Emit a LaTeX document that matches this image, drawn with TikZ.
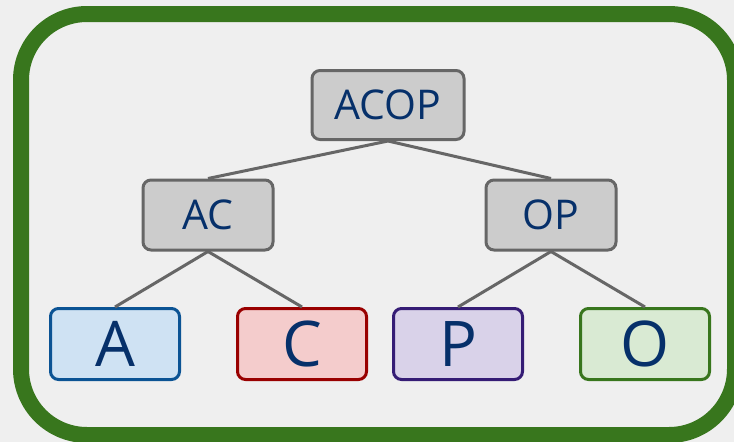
\documentclass[tikz,border=0pt]{standalone}
\usepackage{fontspec}
\setmainfont{Open Sans}
\definecolor{bg}{HTML}{EFEFEF}
\definecolor{frame}{HTML}{38761D}
\definecolor{txt}{HTML}{06306A}
\definecolor{gline}{HTML}{666666}
\definecolor{gfill}{HTML}{CCCCCC}
\definecolor{bfill}{HTML}{CFE2F3}\definecolor{bline}{HTML}{0B5394}
\definecolor{rfill}{HTML}{F4CCCC}\definecolor{rline}{HTML}{990000}
\definecolor{pfill}{HTML}{D9D2E9}\definecolor{pline}{HTML}{351C75}
\definecolor{gnfill}{HTML}{D9EAD3}\definecolor{gnline}{HTML}{38761D}
\tikzset{
  box/.style={draw, line width=3pt, rounded corners=8pt, inner sep=0pt, text=txt},
  inner/.style={box, draw=gline, fill=gfill, minimum width=130pt, minimum height=70pt, font=\fontsize{41}{48}\selectfont},
  leaf/.style={box, minimum width=129pt, minimum height=71pt, font=\fontsize{63}{72}\selectfont},
  link/.style={draw=gline, line width=3pt}
}
\begin{document}
\begin{tikzpicture}[x=1pt,y=-1pt]
\fill[bg] (0,0) rectangle (734,442);
\useasboundingbox (0,0) rectangle (734,442);
\begin{scope}
\clip (0,0) rectangle (734,442);
\draw[frame, line width=16pt, rounded corners=66pt] (21,14) rectangle (735,435);
\end{scope}
\node[inner, minimum width=152pt, minimum height=69pt] (acop) at (388,105) {ACOP};
\node[inner] (ac) at (208,215) {AC};
\node[inner] (op) at (551,215) {OP};
\node[leaf, draw=bline, fill=bfill] (a) at (115,344) {A};
\node[leaf, draw=rline, fill=rfill] (c) at (302,344) {C};
\node[leaf, draw=pline, fill=pfill] (p) at (458,344) {P};
\node[leaf, draw=gnline, fill=gnfill] (o) at (645,344) {O};
\draw[link] (acop.south) -- (ac.north);
\draw[link] (acop.south) -- (op.north);
\draw[link] (ac.south) -- (a.north);
\draw[link] (ac.south) -- (c.north);
\draw[link] (op.south) -- (p.north);
\draw[link] (op.south) -- (o.north);
\end{tikzpicture}
\end{document}
